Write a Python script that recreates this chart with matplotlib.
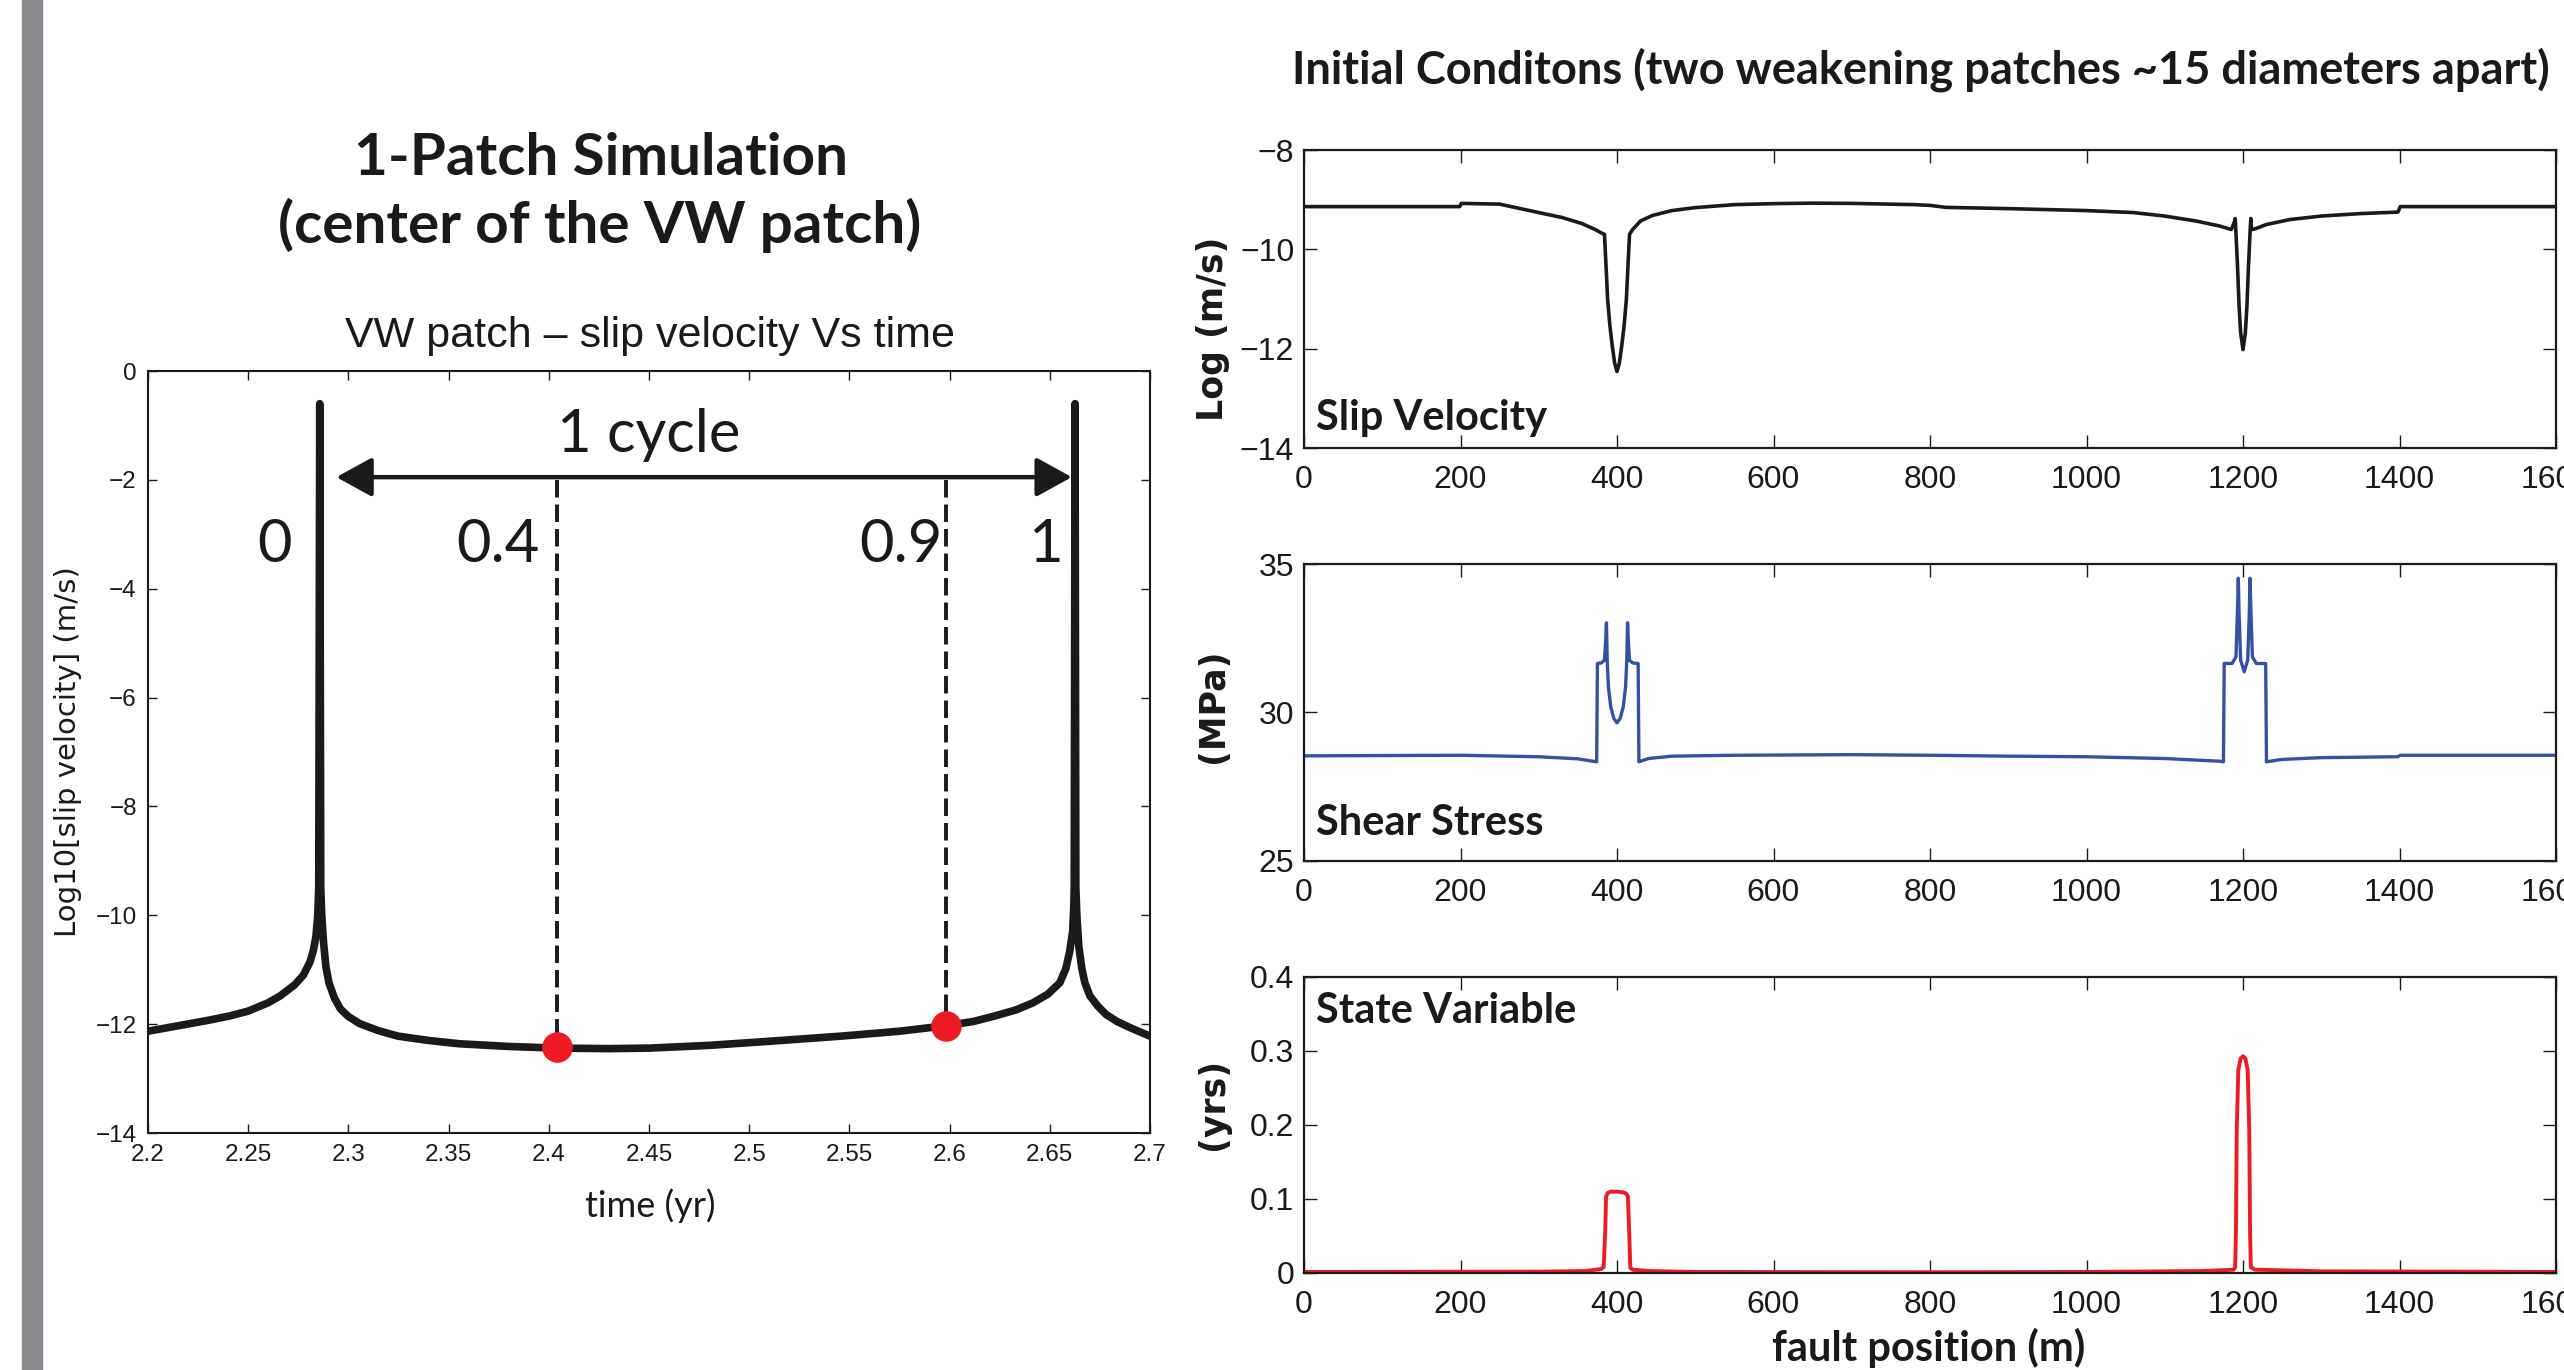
import matplotlib
matplotlib.use('Agg')
import matplotlib.pyplot as plt
from matplotlib.patches import Rectangle

# ---------------- data ----------------
# Left panel: log10 slip velocity at the centre of the VW patch vs time
time_yr = [2.200, 2.215, 2.230, 2.2407, 2.250, 2.2598, 2.266, 2.2731, 2.2775, 2.2808,
           2.2825, 2.2838, 2.2847, 2.2852, 2.2857, 2.2862, 2.2867, 2.2876, 2.2888, 2.2903,
           2.293, 2.2960, 2.300, 2.3056, 2.315, 2.3247, 2.340, 2.3552, 2.380, 2.4040,
           2.430, 2.4505, 2.480, 2.5080, 2.5460, 2.575, 2.5980, 2.612, 2.6225, 2.633,
           2.6415, 2.649, 2.6550, 2.658, 2.6599, 2.6614, 2.6619, 2.6622, 2.6626, 2.6630,
           2.6635, 2.6645, 2.666, 2.6675, 2.670, 2.6740, 2.678, 2.6835, 2.691, 2.7000]
log_slip_vel = [-12.13, -12.03, -11.93, -11.85, -11.76, -11.61, -11.48, -11.28, -11.10,
                -10.86, -10.65, -10.39, -10.0, -9.5, -0.6, -9.5, -10.0, -10.50, -10.95,
                -11.24, -11.52, -11.72, -11.86, -11.99, -12.12, -12.22, -12.30, -12.36,
                -12.41, -12.44, -12.45, -12.44, -12.39, -12.32, -12.22, -12.13, -12.03,
                -11.95, -11.85, -11.74, -11.61, -11.45, -11.24, -10.98, -10.67, -10.30,
                -9.9, -9.5, -0.6, -9.5, -10.0, -10.58, -10.98, -11.24, -11.48, -11.67,
                -11.82, -11.95, -12.08, -12.22]
left_xticks = [2.2, 2.25, 2.3, 2.35, 2.4, 2.45, 2.5, 2.55, 2.6, 2.65, 2.7]
left_xticklabels = ['2.2', '2.25', '2.3', '2.35', '2.4', '2.45', '2.5', '2.55', '2.6', '2.65', '2.7']
left_yticks = [0, -2, -4, -6, -8, -10, -12, -14]

# cycle markers (time, log velocity)
marker_t = [2.404, 2.598]
marker_v = [-12.42, -12.03]
arrow_t = [2.294, 2.661]
arrow_v = -1.95
cycle_labels = ['0', '0.4', '0.9', '1']
cycle_label_t = [2.263, 2.3747, 2.5755, 2.648]

# Right panels: initial conditions along the fault
pos_v = [0, 199, 201, 250, 300, 330, 355, 372, 380, 384, 386, 388, 391, 394, 397, 400,
         403, 406, 409, 412, 414, 416, 420, 430, 445, 470, 500, 550, 600, 650, 700, 780,
         800, 820, 900, 1000, 1060, 1100, 1140, 1170, 1185, 1189, 1190, 1191, 1193, 1195,
         1197, 1200, 1203, 1205, 1207, 1209, 1210, 1211, 1215, 1230, 1260, 1300, 1350,
         1398, 1401, 1600]
slip_vel = [-9.14, -9.14, -9.075, -9.09, -9.26, -9.36, -9.48, -9.60, -9.67, -9.70, -10.34,
            -11.0, -11.55, -11.95, -12.29, -12.46, -12.29, -11.95, -11.55, -11.0, -10.34,
            -9.70, -9.60, -9.43, -9.32, -9.22, -9.16, -9.10, -9.08, -9.07, -9.075, -9.10,
            -9.115, -9.155, -9.18, -9.22, -9.26, -9.33, -9.43, -9.53, -9.60, -9.45, -9.38,
            -9.67, -10.34, -11.15, -11.68, -12.02, -11.68, -11.15, -10.34, -9.67, -9.38,
            -9.60, -9.59, -9.50, -9.40, -9.33, -9.28, -9.25, -9.14, -9.14]

pos_s = [0, 200, 300, 350, 374, 375, 380, 384, 385.5, 386.5, 387.5, 389, 392, 396, 400,
         404, 408, 411, 412.5, 413.5, 414.5, 416, 420, 427, 428, 440, 470, 550, 700, 800,
         900, 1000, 1100, 1170, 1175, 1176, 1186, 1191, 1193, 1194, 1195, 1197, 1201.5,
         1206, 1208, 1209, 1210, 1212, 1217, 1229, 1230, 1250, 1300, 1398, 1401, 1600]
shear_stress = [28.54, 28.56, 28.51, 28.44, 28.34, 31.65, 31.67, 31.76, 32.40, 33.02,
                31.76, 30.87, 30.19, 29.80, 29.65, 29.80, 30.19, 30.87, 31.76, 33.02,
                32.40, 31.76, 31.67, 31.65, 28.34, 28.45, 28.53, 28.56, 28.58, 28.56,
                28.53, 28.51, 28.45, 28.36, 28.34, 31.65, 31.65, 31.87, 33.5, 34.52,
                33.3, 31.76, 31.37, 31.76, 33.3, 34.52, 33.5, 31.87, 31.65, 31.65,
                28.34, 28.42, 28.48, 28.51, 28.56, 28.56]

pos_st = [0, 300, 360, 380, 383, 385, 386, 388, 392, 400, 408, 412, 414, 415.5, 417, 420,
          440, 500, 800, 1000, 1150, 1188, 1190, 1191, 1192, 1194, 1197, 1200, 1203, 1206,
          1208, 1209, 1210, 1215, 1300, 1600]
state_var = [0.0014, 0.0018, 0.0027, 0.0054, 0.008, 0.058, 0.103, 0.108, 0.110, 0.110,
             0.109, 0.107, 0.103, 0.058, 0.007, 0.0045, 0.0027, 0.0014, 0.0010, 0.0014,
             0.0027, 0.0045, 0.008, 0.058, 0.193, 0.274, 0.290, 0.293, 0.290, 0.274,
             0.193, 0.058, 0.008, 0.0045, 0.0023, 0.0014]

right_xticks = [0, 200, 400, 600, 800, 1000, 1200, 1400, 1600]
vel_yticks = [-8, -10, -12, -14]
stress_yticks = [25, 30, 35]
state_yticks = [0, 0.1, 0.2, 0.3, 0.4]
state_yticklabels = ['0', '0.1', '0.2', '0.3', '0.4']

# ---------------- figure ----------------
plt.rcParams['font.family'] = ['Liberation Sans', 'DejaVu Sans']
plt.rcParams['axes.unicode_minus'] = True

W, H = 2564, 1370
fig = plt.figure(figsize=(W / 100, H / 100), dpi=100)


def fx(px):
    return px / W


def fy(py):
    return 1 - py / H


MYRIAD = ['Lato', 'Open Sans', 'DejaVu Sans']
RED = '#ed1c24'
BLUE = '#3452a4'
INK = '#1a1a1a'

# grey bar at left edge
fig.patches.append(Rectangle((fx(22), 0), fx(42) - fx(22), 1, transform=fig.transFigure,
                             color='#88898d', zorder=0))

# ---- left panel ----
axL = fig.add_axes([fx(148), fy(1133), fx(1150) - fx(148), (1133 - 371) / H])
axL.plot(time_yr, log_slip_vel, color=INK, lw=5.5, solid_capstyle='round',
         solid_joinstyle='round', zorder=3)
for t, v in zip(marker_t, marker_v):
    axL.plot([t, t], [arrow_v - 0.05, v], color=INK, lw=2.8,
             linestyle=(0, (4.5, 1.8)), zorder=2)
axL.plot(marker_t, marker_v, 'o', color=RED, markersize=22, markeredgewidth=0, zorder=5)
axL.annotate('', xy=(arrow_t[1], arrow_v), xytext=(arrow_t[0], arrow_v),
             arrowprops=dict(arrowstyle='<|-|>,head_length=1.0,head_width=0.55',
                             lw=3.2, color=INK, mutation_scale=22,
                             shrinkA=0, shrinkB=0), zorder=4)
axL.text(2.45, -1.48, '1 cycle', family=MYRIAD, fontsize=43, ha='center',
         va='baseline', color=INK)
for lab, t in zip(cycle_labels, cycle_label_t):
    axL.text(t, -3.5, lab, family=MYRIAD, fontsize=43, ha='center', va='baseline',
             color=INK)

axL.set_xlim(2.2, 2.7)
axL.set_ylim(-14, 0)
axL.set_xticks(left_xticks)
axL.set_xticklabels(left_xticklabels)
axL.set_yticks(left_yticks)
axL.tick_params(direction='in', top=True, right=True, length=6.5, width=1.0,
                labelsize=17.5, pad=8, colors=INK)
for s in axL.spines.values():
    s.set_linewidth(1.5)
    s.set_color(INK)

fig.text(fx(68), fy(752), 'Log10[slip velocity] (m/s)', family='DejaVu Sans', fontsize=21,
         rotation=90, ha='center', va='center', color=INK)
fig.text(fx(650), fy(1217), 'time (yr)', family=MYRIAD, fontsize=26, ha='center',
         va='baseline', color=INK)
fig.text(fx(650), fy(347), 'VW patch \u2013 slip velocity Vs time', fontsize=31,
         ha='center', va='baseline', color=INK)
fig.text(fx(601), fy(175), '1-Patch Simulation', family=MYRIAD, fontweight='bold',
         fontsize=42, ha='center', va='baseline', color=INK)
fig.text(fx(600), fy(243), '(center of the VW patch)', family=MYRIAD, fontweight='bold',
         fontsize=42, ha='center', va='baseline', color=INK)

# ---- right panels ----
left_r, right_r = 1304, 2556
panels = [
    (150, 448, pos_v, slip_vel, INK, 2.6, (-14, -8), vel_yticks, None,
     'Slip Velocity', 'Log (m/s)', 329),
    (564, 861, pos_s, shear_stress, BLUE, 2.4, (25, 35), stress_yticks, None,
     'Shear Stress', '(MPa)', 706),
    (977, 1273, pos_st, state_var, RED, 2.8, (0, 0.4), state_yticks, state_yticklabels,
     'State Variable', '(yrs)', 1104),
]
for i, (top, bot, xs, ys, col, lw, ylim, yt, ytl, name, ylab, ylab_y) in enumerate(panels):
    ax = fig.add_axes([fx(left_r), fy(bot), fx(right_r) - fx(left_r), (bot - top) / H])
    ax.plot(xs, ys, color=col, lw=lw, solid_joinstyle='round')
    ax.set_xlim(0, 1600)
    ax.set_ylim(*ylim)
    ax.set_xticks(right_xticks)
    ax.set_yticks(yt)
    if ytl is not None:
        ax.set_yticklabels(ytl)
    ax.tick_params(direction='in', top=True, right=True, length=9.5, width=1.0,
                   labelsize=23, pad=7, colors=INK)
    ax.tick_params(axis='x', pad=12)
    for s in ax.spines.values():
        s.set_linewidth(1.6)
        s.set_color(INK)
    fig.text(fx(1213), fy(ylab_y), ylab, family='DejaVu Sans', fontweight='bold',
             fontsize=25, rotation=90, ha='center', va='center', color=INK)
    if i == 2:
        ax.text(0.0096, 0.845, name, transform=ax.transAxes, family=MYRIAD,
                fontweight='bold', fontsize=30, ha='left', va='baseline', color=INK)
    else:
        yb = 0.06 if i == 0 else 0.088
        ax.text(0.0096, yb, name, transform=ax.transAxes, family=MYRIAD,
                fontweight='bold', fontsize=30, ha='left', va='baseline', color=INK)

fig.text(fx(1929), fy(1361), 'fault position (m)', family=MYRIAD, fontweight='bold',
         fontsize=30, ha='center', va='baseline', color=INK)
fig.text(fx(1292), fy(83), 'Initial Conditons (two weakening patches ~15 diameters apart)',
         family=MYRIAD, fontweight='bold', fontsize=32.5, ha='left', va='baseline',
         color=INK)

fig.savefig('out.png', dpi=100, facecolor='white')
